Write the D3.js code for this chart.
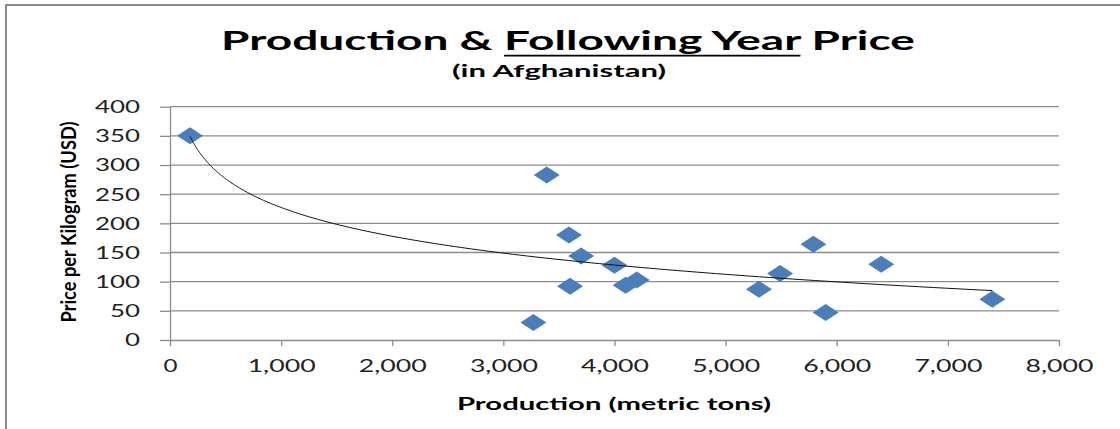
<!DOCTYPE html>
<html>
<head>
<meta charset="utf-8">
<script src="https://cdn.jsdelivr.net/npm/d3@7"></script>
<style>
  html, body { margin: 0; padding: 0; background: #fff; }
  svg { display: block; }
</style>
</head>
<body>
<svg id="chart" width="1120" height="429"></svg>
<script>
// Annual production (metric tons) and the price per kilogram (USD) in the following year
const production = [180, 3270, 3390, 3590, 3600, 3700, 4000, 4100, 4200, 5300, 5490, 5790, 5900, 6400, 7400];
const price      = [350,   30,  283,  180,   92,  144,  128,   94,  103,   87,  114,  164,   47,  130,   70];

const xTicks = [0, 1000, 2000, 3000, 4000, 5000, 6000, 7000, 8000];
const yTicks = [0, 50, 100, 150, 200, 250, 300, 350, 400];

const FONT = "Lato, 'Open Sans', 'DejaVu Sans', sans-serif";
const GRID = "#8c8c8c";
const MARK = "#4a7ebb";

const svg = d3.select("#chart");

// Outer chart frame (continues past the right and bottom edges)
svg.append("rect")
  .attr("x", 6).attr("y", 5)
  .attr("width", 1200).attr("height", 500)
  .attr("fill", "none").attr("stroke", "#8a8a8a").attr("stroke-width", 2);

const x = d3.scaleLinear().domain([0, 8000]).range([170, 1059]);
const y = d3.scaleLinear().domain([0, 400]).range([340, 106.7]);

// Horizontal gridlines
svg.append("g").selectAll("line")
  .data(yTicks.filter(d => d > 0))
  .join("line")
  .attr("x1", x(0)).attr("x2", x(8000))
  .attr("y1", d => y(d)).attr("y2", d => y(d))
  .attr("stroke", GRID).attr("stroke-width", 1.3);

// Y axis
const yAxis = svg.append("g")
  .attr("transform", `translate(${x(0)},0)`)
  .call(d3.axisLeft(y).tickValues(yTicks).tickSize(10).tickSizeOuter(0).tickPadding(20));
yAxis.select(".domain").attr("stroke", GRID).attr("stroke-width", 1.3);
yAxis.selectAll(".tick line").attr("stroke", GRID).attr("stroke-width", 1.3);
yAxis.selectAll(".tick text")
  .attr("font-family", FONT).attr("font-size", 16.5).attr("fill", "#222")
  .attr("dy", "0.36em")
  .attr("textLength", d => String(d).length * 15)
  .attr("lengthAdjust", "spacingAndGlyphs");

// X axis
const fmt = d3.format(",");
const xAxis = svg.append("g")
  .attr("transform", `translate(0,${y(0)})`)
  .call(d3.axisBottom(x).tickValues(xTicks).tickSize(6).tickSizeOuter(0).tickFormat(fmt));
xAxis.select(".domain").attr("stroke", GRID).attr("stroke-width", 1.3);
xAxis.selectAll(".tick line").attr("stroke", GRID).attr("stroke-width", 1.3);
xAxis.selectAll(".tick text")
  .attr("font-family", FONT).attr("font-size", 16.5).attr("fill", "#222")
  .attr("y", 31.5).attr("dy", 0)
  .attr("textLength", d => d === 0 ? 14 : 68)
  .attr("lengthAdjust", "spacingAndGlyphs");

// Data points as diamonds
const pts = production.map((p, i) => ({ p, v: price[i] }));
svg.append("g").selectAll("path")
  .data(pts)
  .join("path")
  .attr("transform", d => `translate(${x(d.p)},${y(d.v)})`)
  .attr("d", "M0,-8.5L13,0L0,8.5L-13,0Z")
  .attr("fill", MARK);

// Logarithmic trendline: least-squares fit of price on ln(production)
const lx = production.map(Math.log);
const mx = d3.mean(lx), my = d3.mean(price);
const sxy = d3.sum(lx, (v, i) => (v - mx) * (price[i] - my));
const sxx = d3.sum(lx, v => (v - mx) * (v - mx));
const b = sxy / sxx, a = my - b * mx;
const [pMin, pMax] = d3.extent(production);
const curve = d3.range(0, 201).map(i => {
  const p = pMin * Math.pow(pMax / pMin, i / 200);
  return [p, a + b * Math.log(p)];
});
svg.append("path")
  .datum(curve)
  .attr("d", d3.line().x(d => x(d[0])).y(d => y(d[1])))
  .attr("fill", "none").attr("stroke", "#111").attr("stroke-width", 1);

// Title, stretched to its width, with "Following Year" underlined
const lead = "Production & ", marked = "Following Year", tail = " Price";
const titleG = svg.append("g");
const title = titleG.append("text")
  .attr("font-family", FONT).attr("font-weight", 700).attr("font-size", 26.5)
  .attr("text-anchor", "middle").attr("fill", "#000")
  .text(lead + marked + tail);
const tNode = title.node();
const tLen = tNode.getComputedTextLength();
const first = tNode.getExtentOfChar(lead.length);
const last = tNode.getExtentOfChar(lead.length + marked.length - 1);
titleG.append("line")
  .attr("x1", first.x).attr("x2", last.x + last.width)
  .attr("y1", 5.6).attr("y2", 5.6)
  .attr("stroke", "#000").attr("stroke-width", 1.7);
titleG.attr("transform", `translate(568,50) scale(${694 / tLen},1)`);

svg.append("text")
  .attr("x", 559).attr("y", 77)
  .attr("font-family", FONT).attr("font-weight", 700).attr("font-size", 17.5)
  .attr("text-anchor", "middle").attr("fill", "#000")
  .attr("textLength", 214).attr("lengthAdjust", "spacingAndGlyphs")
  .text("(in Afghanistan)");

// Axis titles
svg.append("text")
  .attr("x", 614).attr("y", 410)
  .attr("font-family", FONT).attr("font-weight", 700).attr("font-size", 16.5)
  .attr("text-anchor", "middle").attr("fill", "#000")
  .attr("textLength", 314).attr("lengthAdjust", "spacingAndGlyphs")
  .text("Production (metric tons)");

svg.append("text")
  .attr("transform", "translate(76,222) scale(1.3,1) rotate(-90)")
  .attr("font-family", FONT).attr("font-weight", 700).attr("font-size", 15.5)
  .attr("text-anchor", "middle").attr("fill", "#000")
  .attr("textLength", 201).attr("lengthAdjust", "spacingAndGlyphs")
  .text("Price per Kilogram (USD)");
</script>
</body>
</html>
